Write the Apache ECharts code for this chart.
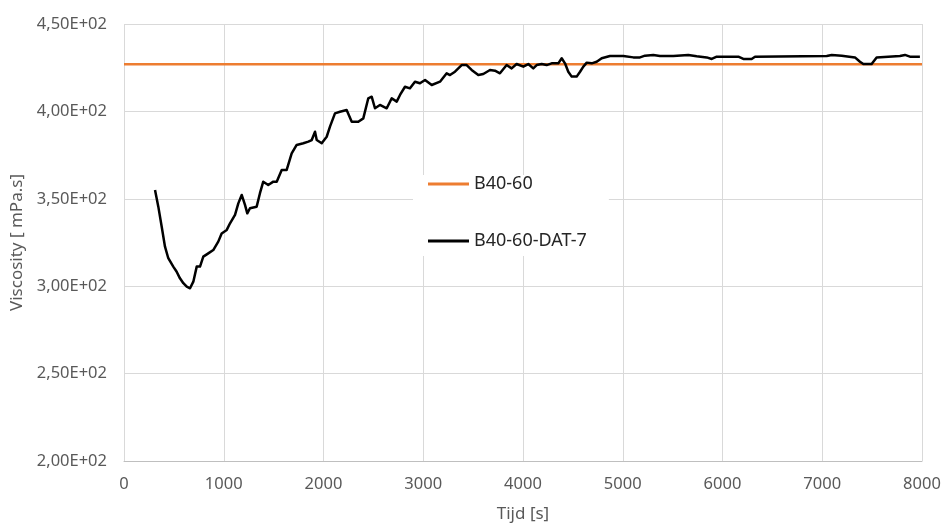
<!DOCTYPE html>
<html>
<head>
<meta charset="utf-8">
<script src="https://cdn.jsdelivr.net/npm/echarts@6/dist/echarts.min.js"></script>
<style>
  html, body { margin: 0; padding: 0; background: #fff; }
  #chart { width: 942px; height: 526px; }
</style>
</head>
<body>
<div id="chart"></div>
<script>
// reference level B40-60 (constant)
const refT = [0, 8000];
const refV = [427, 427];

// measured curve B40-60-DAT-7, time [s] / viscosity [mPa.s]
const datT = [311, 344, 378, 411, 444, 494, 528, 561, 595, 629, 662, 695, 729, 762, 795, 845, 895, 945, 979, 1030,
  1063, 1113, 1146, 1180, 1213, 1236, 1263, 1330, 1363, 1396, 1446, 1497, 1531, 1581, 1631, 1681, 1731, 1798, 1848, 1882,
  1915, 1932, 1982, 2032, 2065, 2115, 2165, 2232, 2283, 2349, 2399, 2449, 2483, 2516, 2566, 2634, 2684, 2734, 2767, 2817,
  2867, 2917, 2967, 3018, 3085, 3168, 3235, 3268, 3318, 3385, 3435, 3485, 3552, 3602, 3669, 3719, 3769, 3836, 3886, 3936,
  4003, 4053, 4103, 4137, 4187, 4237, 4287, 4354, 4388, 4421, 4454, 4488, 4538, 4572, 4605, 4639, 4689, 4739, 4789, 4872,
  5006, 5106, 5173, 5223, 5306, 5373, 5507, 5657, 5741, 5842, 5892, 5942, 6159, 6209, 6292, 6326, 7045, 7095, 7195, 7328,
  7378, 7412, 7495, 7545, 7779, 7829, 7879, 7979];
const datV = [355.0, 345.5, 334.0, 322.6, 316.0, 311.2, 308.3, 304.5, 301.7, 299.7, 298.8, 302.6, 311.2, 311.2, 316.9, 318.8, 320.7, 325.5, 330.2, 332.2,
  336.0, 340.8, 347.4, 352.2, 346.5, 341.7, 344.6, 345.5, 353.2, 359.8, 357.9, 359.8, 359.8, 366.5, 366.5, 376.0, 380.8, 381.8, 382.7, 383.6,
  388.4, 383.6, 381.8, 385.5, 391.3, 398.9, 399.8, 400.8, 394.1, 394.1, 396.0, 407.5, 408.4, 401.8, 403.7, 401.8, 407.5, 405.6, 409.4, 414.1,
  413.2, 417.0, 416.1, 418.0, 415.1, 417.0, 421.8, 420.8, 422.7, 426.5, 426.5, 423.7, 420.8, 421.4, 423.7, 423.3, 421.8, 426.5, 424.6, 427.1,
  425.6, 427.1, 424.6, 426.5, 427.1, 426.5, 427.5, 427.5, 430.4, 427.5, 422.7, 419.9, 419.9, 422.7, 425.6, 427.9, 427.5, 428.4, 430.4, 431.7,
  431.7, 430.9, 430.9, 431.9, 432.3, 431.7, 431.7, 432.3, 431.5, 430.9, 430.0, 431.3, 431.3, 430.0, 430.0, 431.3, 431.7, 432.3, 431.9, 430.9,
  428.4, 427.1, 427.1, 430.9, 431.7, 432.3, 431.3, 431.3];

const yTicks = [200, 250, 300, 350, 400, 450];
const yTickLabels = ['2,00E+02', '2,50E+02', '3,00E+02', '3,50E+02', '4,00E+02', '4,50E+02'];

const labelColor = '#595959';
const fontFamily = '"Noto Sans", "Open Sans", sans-serif';

const chart = echarts.init(document.getElementById('chart'), null, { renderer: 'canvas' });

chart.setOption({
  animation: false,
  backgroundColor: '#fff',
  grid: { left: 124, right: 20, top: 24, bottom: 65, containLabel: false, outerBoundsMode: 'none' },
  legend: {
    orient: 'vertical',
    left: 413,
    top: 175,
    backgroundColor: '#fff',
    padding: [0, 22, 6, 15],
    itemGap: 39,
    itemWidth: 41,
    itemHeight: 3,
    icon: 'rect',
    textStyle: { color: '#262626', fontSize: 18, fontFamily: fontFamily },
    data: ['B40-60', 'B40-60-DAT-7']
  },
  xAxis: {
    type: 'value',
    min: 0, max: 8000, interval: 1000,
    name: 'Tijd [s]',
    nameLocation: 'middle',
    nameGap: 45,
    nameTextStyle: { color: labelColor, fontSize: 17, fontFamily: fontFamily },
    axisLine: { show: true, lineStyle: { color: '#bfbfbf', width: 1 } },
    axisTick: { show: false },
    axisLabel: {
      color: labelColor, fontSize: 16.5, fontFamily: fontFamily, margin: 15,
      formatter: function (v) { return String(v); }
    },
    splitLine: { show: true, lineStyle: { color: '#d9d9d9', width: 1 } }
  },
  yAxis: {
    type: 'value',
    min: 200, max: 450, interval: 50,
    name: 'Viscosity [ mPa.s]',
    nameLocation: 'middle',
    nameGap: 96,
    nameTextStyle: { color: labelColor, fontSize: 17, fontFamily: fontFamily },
    axisLine: { show: false },
    axisTick: { show: false },
    axisLabel: {
      color: labelColor, fontSize: 16.5, fontFamily: fontFamily, margin: 17,
      formatter: function (v) { return yTickLabels[yTicks.indexOf(v)]; }
    },
    splitLine: { show: true, lineStyle: { color: '#d9d9d9', width: 1 } }
  },
  series: [
    {
      name: 'B40-60',
      type: 'line',
      data: refT.map((t, i) => [t, refV[i]]),
      showSymbol: false,
      lineStyle: { color: '#ed7d31', width: 2.5 },
      itemStyle: { color: '#ed7d31' },
      z: 2
    },
    {
      name: 'B40-60-DAT-7',
      type: 'line',
      data: datT.map((t, i) => [t, datV[i]]),
      showSymbol: false,
      lineStyle: { color: '#000000', width: 2.5, join: 'round' },
      itemStyle: { color: '#000000' },
      z: 3
    }
  ]
});
</script>
</body>
</html>
